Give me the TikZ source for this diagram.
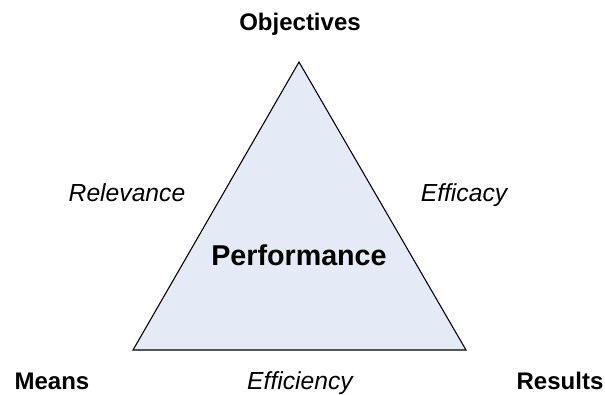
\documentclass[tikz,border=0pt]{standalone}
\usepackage{fontspec}
\setmainfont{Liberation Sans}
\usepackage{tikz}
\definecolor{trifill}{HTML}{E4EAF6}

\begin{document}
\begin{tikzpicture}[x=0.75pt,y=-0.75pt,
    corner/.style={anchor=base, font=\fontsize{18}{21}\selectfont\bfseries},
    side/.style={anchor=base, font=\fontsize{18.5}{22}\selectfont\itshape},
    centre/.style={anchor=base, font=\fontsize{21.5}{26}\selectfont\bfseries}]
                \useasboundingbox (0,0) rectangle (605,394);

                % Triangle
                \coordinate (top) at (299,62);
                \coordinate (left) at (133,350);
                \coordinate (right) at (466,350);
                \draw[fill=trifill, line width=0.8pt] (top) -- (right) -- (left) -- cycle;
                \node[centre] (perf) at (299,265) {Performance};

                % Corners
                \node[corner] (obj) at (300,30) {Objectives};
                \node[corner] (means) at (52,389) {Means};
                \node[corner] (res) at (560,389) {Results};

                % Sides
                \node[side] (rel) at (127,201) {Relevance};
                \node[side] (eff) at (464,201) {Efficacy};
                \node[side] (effi) at (300,389) {Efficiency};
            \end{tikzpicture}
\end{document}
